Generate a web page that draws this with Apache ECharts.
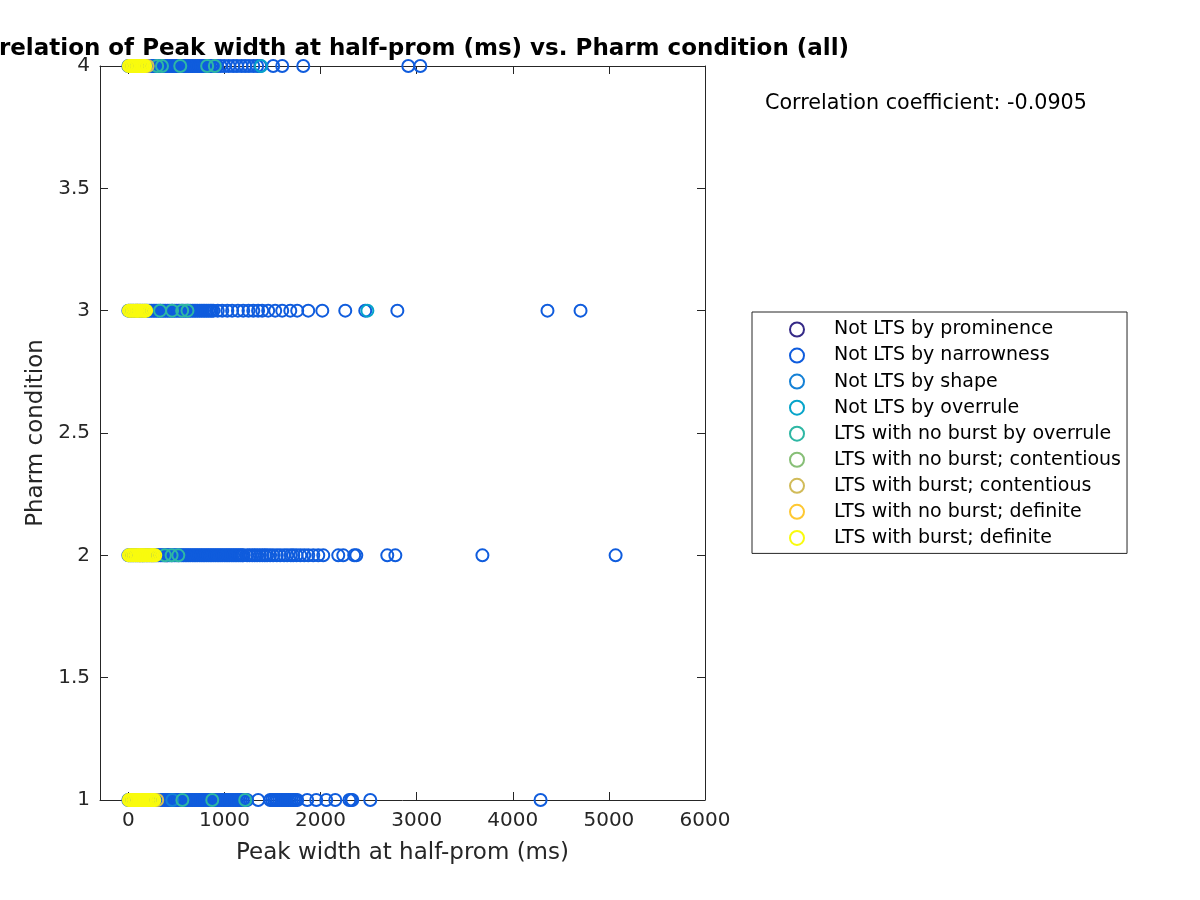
<!DOCTYPE html>
<html>
<head>
<meta charset="utf-8">
<script src="https://cdn.jsdelivr.net/npm/echarts@6/dist/echarts.min.js"></script>
<style>
html,body{margin:0;padding:0;background:#fff;}
#chart{width:1200px;height:900px;}
</style>
</head>
<body>
<div id="chart"></div>
<script>
// ---- Data (x = peak width at half-prom, ms) per pharm condition ----
const seriesNames = [
  'Not LTS by prominence',
  'Not LTS by narrowness',
  'Not LTS by shape',
  'Not LTS by overrule',
  'LTS with no burst by overrule',
  'LTS with no burst; contentious',
  'LTS with burst; contentious',
  'LTS with no burst; definite',
  'LTS with burst; definite'
];
const seriesColors = ['#352a87','#0f5cdd','#1481d6','#06a4ca','#2eb7a4','#87bf77','#d1bb59','#fec832','#f9fb0e'];

const prominence_c1 = [];
const prominence_c2 = [400];
const prominence_c3 = [];
const prominence_c4 = [];

const narrowness_c1 = [0, 17, 36, 55, 73, 92, 110, 129, 148, 166, 185, 203, 222, 241, 259, 278, 296, 315, 334, 352, 371, 389, 408, 427, 445, 464, 482, 501, 520, 538, 557, 575, 594, 613, 631, 650, 668, 687, 706, 724, 743, 761, 780, 799, 817, 836, 854, 873, 892, 910, 929, 947, 966, 985, 1003, 1022, 1040, 1059, 1078, 1096, 1115, 1133, 1152, 1171, 1189, 1208, 1222, 1236,
  1351, 1476, 1495, 1515, 1534, 1552, 1571, 1590, 1608, 1627, 1645, 1664, 1683, 1701, 1720, 1738, 1757,
  1861, 1955, 2059, 2153, 2300, 2318, 2330, 2517, 4289];
const narrowness_c2 = [0, 18, 37, 55, 74, 92, 111, 129, 148, 166, 185, 203, 222, 240, 259, 277, 296, 314, 333, 351, 370, 388, 407, 425, 444, 462, 481, 499, 518, 536, 555, 573, 592, 610, 629, 647, 666, 684, 703, 721, 740, 758, 777, 795, 814, 832, 851, 869, 888, 906, 925, 943, 962, 980, 999, 1017, 1036, 1054, 1073, 1091, 1110, 1128, 1147, 1165, 1184, 1195,
  1236, 1262, 1290, 1315, 1340, 1368, 1395, 1420, 1444, 1475, 1507, 1545, 1580, 1620, 1653, 1690, 1716, 1750, 1789, 1830, 1872, 1924, 1976, 2028,
  2184, 2236, 2350, 2372, 2694, 2778, 3684, 5070];
const narrowness_c3 = [0, 18, 37, 55, 74, 92, 111, 129, 148, 166, 185, 203, 222, 240, 259, 277, 296, 314, 333, 351, 370, 388, 407, 425, 444, 462, 481, 499, 518, 536, 555, 573, 592, 610, 629, 647, 666, 684, 703, 721, 740, 758, 777, 795, 814, 832, 851, 869, 885,
  930, 977, 1030, 1080, 1140, 1195, 1250, 1300, 1350, 1393, 1455, 1528, 1601, 1685, 1757, 1872, 2018, 2257, 2465, 2799, 4361, 4705];
const narrowness_c4 = [0, 18, 37, 55, 74, 92, 111, 129, 148, 166, 185, 203, 222, 240, 259, 277, 296, 314, 333, 351, 370, 388, 407, 425, 444, 462, 481, 499, 518, 536, 555, 573, 592, 610, 629, 647, 666, 684, 703, 721, 740, 758, 777, 795, 814, 832, 851, 869, 888, 906, 925,
  960, 1000, 1045, 1090, 1130, 1175, 1215, 1255, 1300, 1340, 1372, 1507, 1601, 1820, 2913, 3038];

const shape_c1 = [458];
const shape_c2 = [];
const shape_c3 = [];
const shape_c4 = [];

const overrule_c1 = [];
const overrule_c2 = [];
const overrule_c3 = [2487];
const overrule_c4 = [1380];

const ltsOverrule_c1 = [562, 873, 1216];
const ltsOverrule_c2 = [380, 450, 520];
const ltsOverrule_c3 = [330, 455, 560, 615];
const ltsOverrule_c4 = [300, 350, 540, 820, 900];

const noBurstCont_c1 = [];
const noBurstCont_c2 = [150];
const noBurstCont_c3 = [];
const noBurstCont_c4 = [];

const burstCont_c1 = [300];
const burstCont_c2 = [];
const burstCont_c3 = [];
const burstCont_c4 = [200];

const noBurstDef_c1 = [100, 180];
const noBurstDef_c2 = [120, 250];
const noBurstDef_c3 = [90];
const noBurstDef_c4 = [150];

const burstDef_c1 = [5, 22, 40, 58, 76, 95, 113, 131, 150, 168, 186, 205, 223, 241, 258, 270];
const burstDef_c2 = [5, 23, 42, 60, 79, 97, 116, 134, 153, 171, 190, 208, 227, 245, 262, 280];
const burstDef_c3 = [5, 22, 40, 57, 75, 92, 110, 127, 145, 162, 175, 185];
const burstDef_c4 = [5, 22, 39, 56, 73, 90, 107, 124, 141, 158, 175];

const xTicks = [0, 1000, 2000, 3000, 4000, 5000, 6000];
const correlationText = 'Correlation coefficient: -0.0905';

const seriesRows = [
  [prominence_c1, prominence_c2, prominence_c3, prominence_c4],
  [narrowness_c1, narrowness_c2, narrowness_c3, narrowness_c4],
  [shape_c1, shape_c2, shape_c3, shape_c4],
  [overrule_c1, overrule_c2, overrule_c3, overrule_c4],
  [ltsOverrule_c1, ltsOverrule_c2, ltsOverrule_c3, ltsOverrule_c4],
  [noBurstCont_c1, noBurstCont_c2, noBurstCont_c3, noBurstCont_c4],
  [burstCont_c1, burstCont_c2, burstCont_c3, burstCont_c4],
  [noBurstDef_c1, noBurstDef_c2, noBurstDef_c3, noBurstDef_c4],
  [burstDef_c1, burstDef_c2, burstDef_c3, burstDef_c4]
];

function toPoints(rows) {
  const pts = [];
  rows.forEach((xs, i) => xs.forEach(x => pts.push([x, i + 1])));
  return pts;
}

const FONT = 'DejaVu Sans';
const AX = '#262626';
const XMIN = -295, XMAX = 6000;

const chart = echarts.init(document.getElementById('chart'), null, {renderer: 'canvas'});

const series = seriesNames.map((name, i) => ({
  name: name,
  type: 'scatter',
  xAxisIndex: 0,
  yAxisIndex: 0,
  symbol: 'circle',
  symbolSize: 12,
  large: false,
  itemStyle: {color: 'rgba(0,0,0,0)', borderColor: seriesColors[i], borderWidth: 2, opacity: 1},
  emphasis: {disabled: true},
  data: toPoints(seriesRows[i]),
  z: 2 + i
}));

const option = {
  animation: false,
  backgroundColor: '#fff',
  title: {
    text: 'Correlation of Peak width at half-prom (ms) vs. Pharm condition (all)',
    left: 402,
    top: 38,
    textAlign: 'center',
    padding: 0,
    textStyle: {fontFamily: FONT, fontWeight: 'bold', fontSize: 23, color: '#000'}
  },
  grid: {left: 100, right: 495, top: 66, bottom: 100, containLabel: false, show: false},
  legend: {
    orient: 'vertical',
    left: 752,
    top: 312,
    padding: [8, 6, 6, 37],
    itemWidth: 64,
    itemHeight: 14,
    itemGap: 7.05,
    borderColor: AX,
    borderWidth: 1,
    backgroundColor: '#fff',
    selectedMode: false,
    textStyle: {fontFamily: FONT, fontSize: 19, color: '#000', lineHeight: 14},
    data: seriesNames.map((n, i) => ({
      name: n,
      icon: 'circle',
      itemStyle: {color: 'rgba(0,0,0,0)', borderColor: seriesColors[i], borderWidth: 2}
    }))
  },
  xAxis: [{
    type: 'value', min: XMIN, max: XMAX, position: 'bottom',
    name: 'Peak width at half-prom (ms)', nameLocation: 'middle', nameGap: 42,
    nameTextStyle: {fontFamily: FONT, fontSize: 23, color: AX},
    axisLine: {show: true, onZero: false, lineStyle: {color: AX, width: 1}},
    axisTick: {show: true, inside: true, length: 8, customValues: xTicks, lineStyle: {color: AX}},
    axisLabel: {show: true, customValues: xTicks, margin: 11, fontFamily: FONT, fontSize: 20, color: AX,
      formatter: v => String(v)},
    splitLine: {show: false}
  }, {
    type: 'value', min: XMIN, max: XMAX, position: 'top',
    axisLine: {show: true, onZero: false, lineStyle: {color: AX, width: 1}},
    axisTick: {show: true, inside: true, length: 8, customValues: xTicks, lineStyle: {color: AX}},
    axisLabel: {show: false},
    splitLine: {show: false}
  }],
  yAxis: [{
    type: 'value', min: 1, max: 4, interval: 0.5, position: 'left',
    name: 'Pharm condition', nameLocation: 'middle', nameGap: 49,
    nameTextStyle: {fontFamily: FONT, fontSize: 23, color: AX},
    axisLine: {show: true, onZero: false, lineStyle: {color: AX, width: 1}},
    axisTick: {show: true, inside: true, length: 8, lineStyle: {color: AX}},
    axisLabel: {show: true, margin: 10, fontFamily: FONT, fontSize: 20, color: AX,
      formatter: v => String(v)},
    splitLine: {show: false}
  }, {
    type: 'value', min: 1, max: 4, interval: 0.5, position: 'right',
    axisLine: {show: true, onZero: false, lineStyle: {color: AX, width: 1}},
    axisTick: {show: true, inside: true, length: 8, lineStyle: {color: AX}},
    axisLabel: {show: false},
    splitLine: {show: false}
  }],
  graphic: [{
    type: 'text',
    left: 765,
    top: 93,
    style: {text: correlationText, fontFamily: FONT, fontSize: 20.7, fill: '#000'}
  }],
  series: series
};

chart.setOption(option);
</script>
</body>
</html>
